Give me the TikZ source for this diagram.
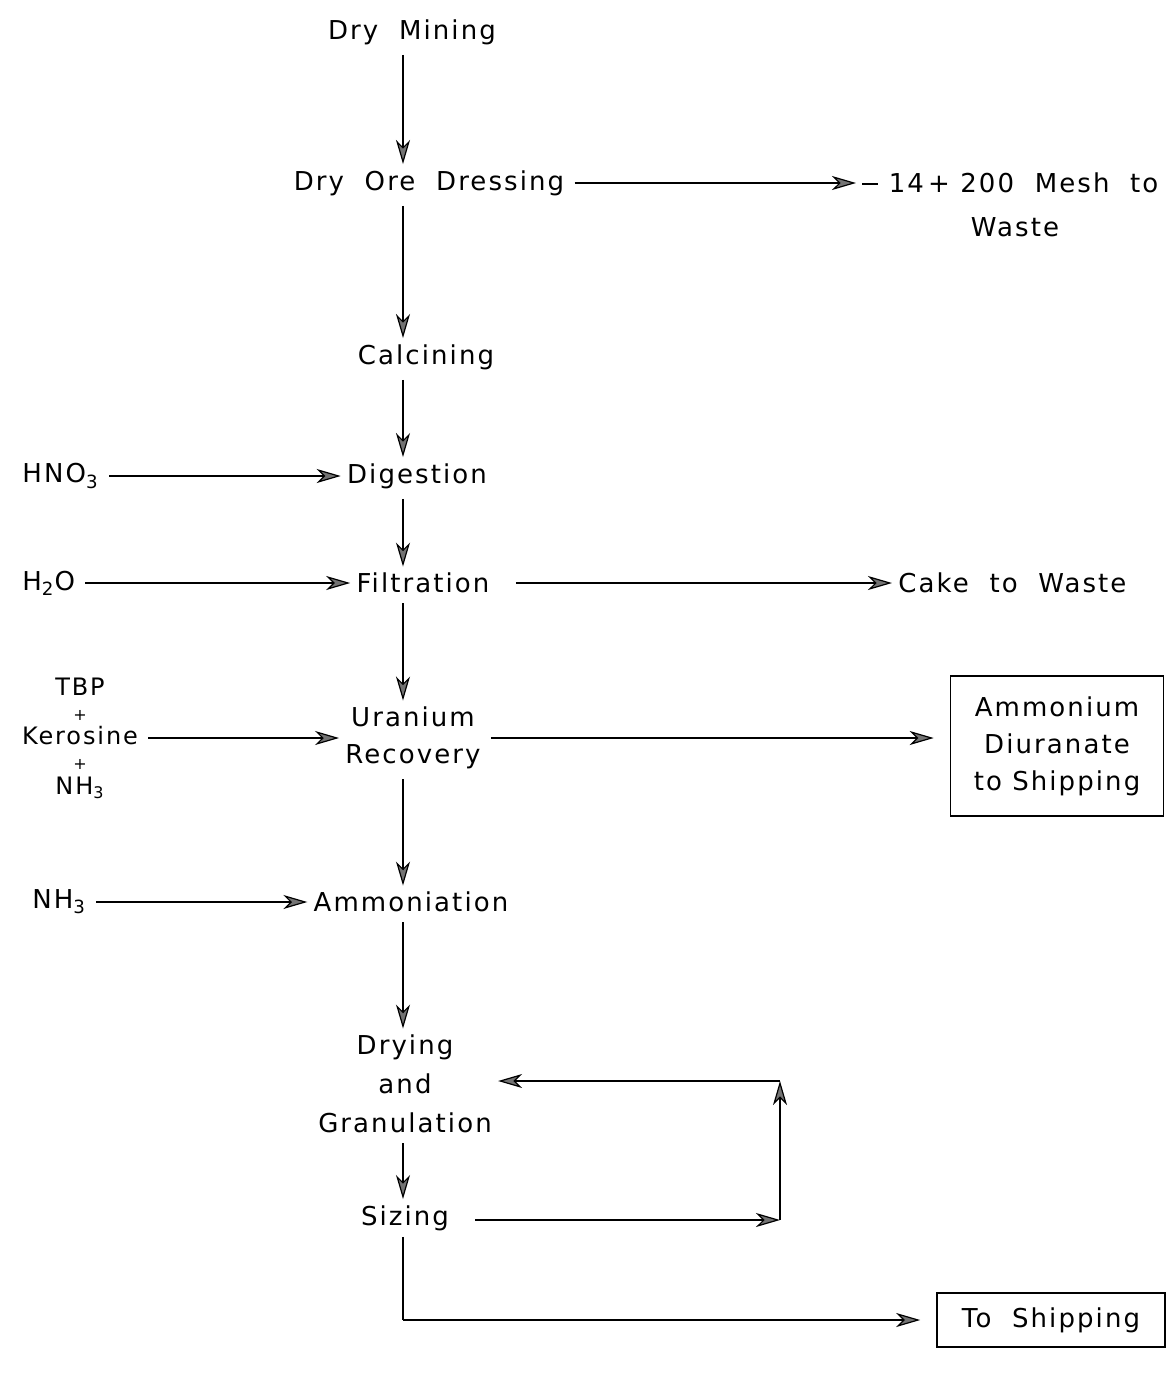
\documentclass[tikz,border=0pt]{standalone}
\usepackage{fontspec}
\setmainfont{DejaVu Sans}[LetterSpace=8]
\usetikzlibrary{arrows.meta}
\begin{document}
\begin{tikzpicture}[x=0.5pt,y=-0.5pt,
  lbl/.style={font=\fontsize{13}{18.5}\selectfont, inner sep=3pt, align=center},
  flow/.style={draw, line width=0.7pt, shorten <=2pt,
    -{Stealth[length=12pt,width=7pt,inset=3.5pt,fill=black!55,line width=0.6pt]}},
  plain/.style={draw, line width=0.7pt},
  tag/.style={lbl, draw, line width=0.8pt}
]
% page background
\fill[white] (0,0) rectangle (1175,1378);
\useasboundingbox (0,0) rectangle (1175,1378);

% main column of process steps
\coordinate (spine) at (403,0);
\node[lbl] (dm)   at (412,32)  {Dry\ \ Mining};
\node[lbl] (dod)  at (429,183) {Dry\ \ Ore\ \ Dressing};
\node[lbl] (calc) at (426,357) {Calcining};
\node[lbl] (dig)  at (417,476) {Digestion};
\node[lbl] (filt) at (423,583) {Filtration};
\node[lbl] (ur)   at (413,738) {Uranium\\Recovery};
\node[lbl] (amm)  at (411,902) {Ammoniation};
\node[lbl, font=\fontsize{13}{19.5}\selectfont] (dg) at (405,1084) {Drying\\and\\Granulation};
\node[lbl] (siz)  at (405,1218) {Sizing};

% side streams
\node[lbl, anchor=west] (mesh) at (856,183) {\rule[0.3em]{8pt}{0.9pt}\ 14\,+\ 200\ \ Mesh\ \ to};
\node[lbl] (waste) at (1015,227) {Waste};
\node[lbl, anchor=west] (hno) at (16,476) {HNO\textsubscript{3}};
\node[lbl, anchor=west] (hto) at (16,583) {H\textsubscript{2}O};
\node[lbl, anchor=west] (cake) at (892,583) {Cake\ \ to\ \ Waste};
\node[lbl, font=\fontsize{12}{12.4}\selectfont] (tbp) at (80,738)
  {TBP\\{\footnotesize +}\\Kerosine\\{\footnotesize +}\\NH\textsubscript{3}};
\node[tag, minimum width=106.5pt, minimum height=70pt] (adu) at (1057,746)
  {Ammonium\\Diuranate\\to\ Shipping};
\node[lbl, anchor=west] (nh) at (26,902) {NH\textsubscript{3}};
\node[tag, minimum width=114pt, minimum height=27pt] (ship) at (1051,1320) {To\ \ Shipping};

% recycle corners and bottom bend
\coordinate (rb) at (780,1220);
\coordinate (rt) at (780,1081);
\coordinate (bend) at (403,1320);

% downward flow
\draw[flow] (dm.south -| spine) -- (dod.north -| spine);
\draw[flow] (dod.south -| spine) -- (calc.north -| spine);
\draw[flow] (calc.south -| spine) -- (dig.north -| spine);
\draw[flow] (dig.south -| spine) -- (filt.north -| spine);
\draw[flow] (filt.south -| spine) -- (ur.north -| spine);
\draw[flow] (ur.south -| spine) -- (amm.north -| spine);
\draw[flow] (amm.south -| spine) -- (dg.north -| spine);
\draw[flow] (dg.south -| spine) -- (siz.north -| spine);

% feeds and discharges
\draw[flow] (dod.east) -- (mesh.west);
\draw[flow] (hno.east) -- (dig.west);
\draw[flow] (hto.east) -- (filt.west);
\draw[flow, shorten <=10pt] (filt.east) -- (cake.west);
\draw[flow] (tbp.east |- ur) -- (ur.west);
\draw[flow, shorten >=8pt] (ur.east) -- (adu.west |- ur);
\draw[flow] (nh.east) -- (amm.west);

% screen oversize returned to granulation
\draw[flow, shorten <=10pt] (siz.east |- rb) -- (rb);
\draw[flow, shorten <=0pt] (rb) -- (rt);
\draw[flow, shorten <=0pt] (rt) -- (dg.east |- rt);

% product to shipping
\draw[plain] (siz.south -| spine) -- (bend);
\draw[flow, shorten <=0pt, shorten >=8pt] (bend) -- (ship.west);
\end{tikzpicture}
\end{document}
